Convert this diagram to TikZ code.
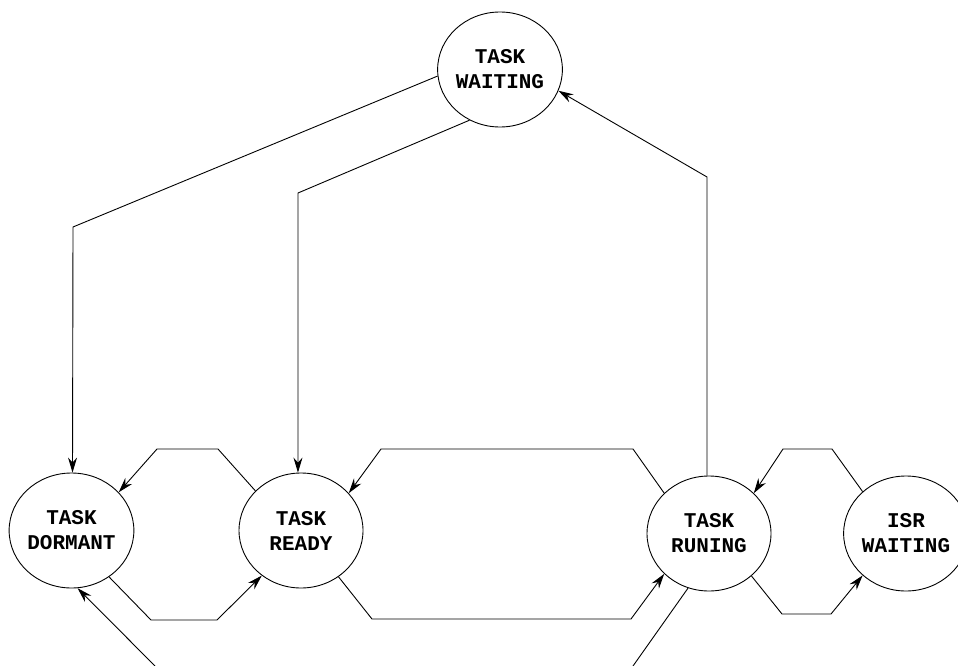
\documentclass[tikz,border=0pt]{standalone}
\usepackage{fontspec}
\setmainfont{Liberation Mono}
\usetikzlibrary{arrows.meta,shapes.geometric}
\begin{document}
\begin{tikzpicture}[x=1pt,y=-1pt,
  state/.style={draw,ellipse,minimum width=124pt,minimum height=115pt,inner sep=0pt,
    align=center,font=\fontsize{21}{25}\selectfont\bfseries,line width=0.9pt},
  conn/.style={line width=0.9pt},
  arr/.style={conn,-{Stealth[length=15pt,width=9pt,inset=5pt]}}]
\useasboundingbox (0,0) rectangle (958,666);

\node[state] (W) at (500,69.5)  {TASK\\WAITING};
\node[state] (D) at (71.5,530.5) {TASK\\DORMANT};
\node[state] (R) at (301,530.5) {TASK\\READY};
\node[state] (U) at (709,533.5) {TASK\\RUNING};
\node[state] (I) at (906,533.5) {ISR\\WAITING};

\coordinate (bl) at (155,666);
\coordinate (br) at (633,666);

% from TASK WAITING
\draw[arr] (W.186) -- (73,227) -- (D.89);
\draw[arr] (W.239.3) -- (298,193) -- (R.93);
% to TASK WAITING
\draw[arr] (U.92) -- (707,177) -- (W.340.5);

% DORMANT <-> READY
\draw[arr] (R.139.5) -- (218,449) -- (157,449) -- (D.39.6);
\draw[arr] (D.309) -- (151,620) -- (217,620) -- (R.229.9);

% READY <-> RUNING
\draw[arr] (U.138) -- (633,449) -- (381,449) -- (R.38.6);
\draw[arr] (R.309.4) -- (372,619) -- (631,619) -- (U.222.8);

% RUNING <-> ISR
\draw[arr] (I.136.7) -- (832,449) -- (783,449) -- (U.42.6);
\draw[arr] (U.315.3) -- (782,614) -- (831,614) -- (I.224.7);

% lines to the bottom edge
\draw[arr] (bl) -- (D.276.3);
\draw[conn] (U.249.3) -- (br);
\end{tikzpicture}
\end{document}
